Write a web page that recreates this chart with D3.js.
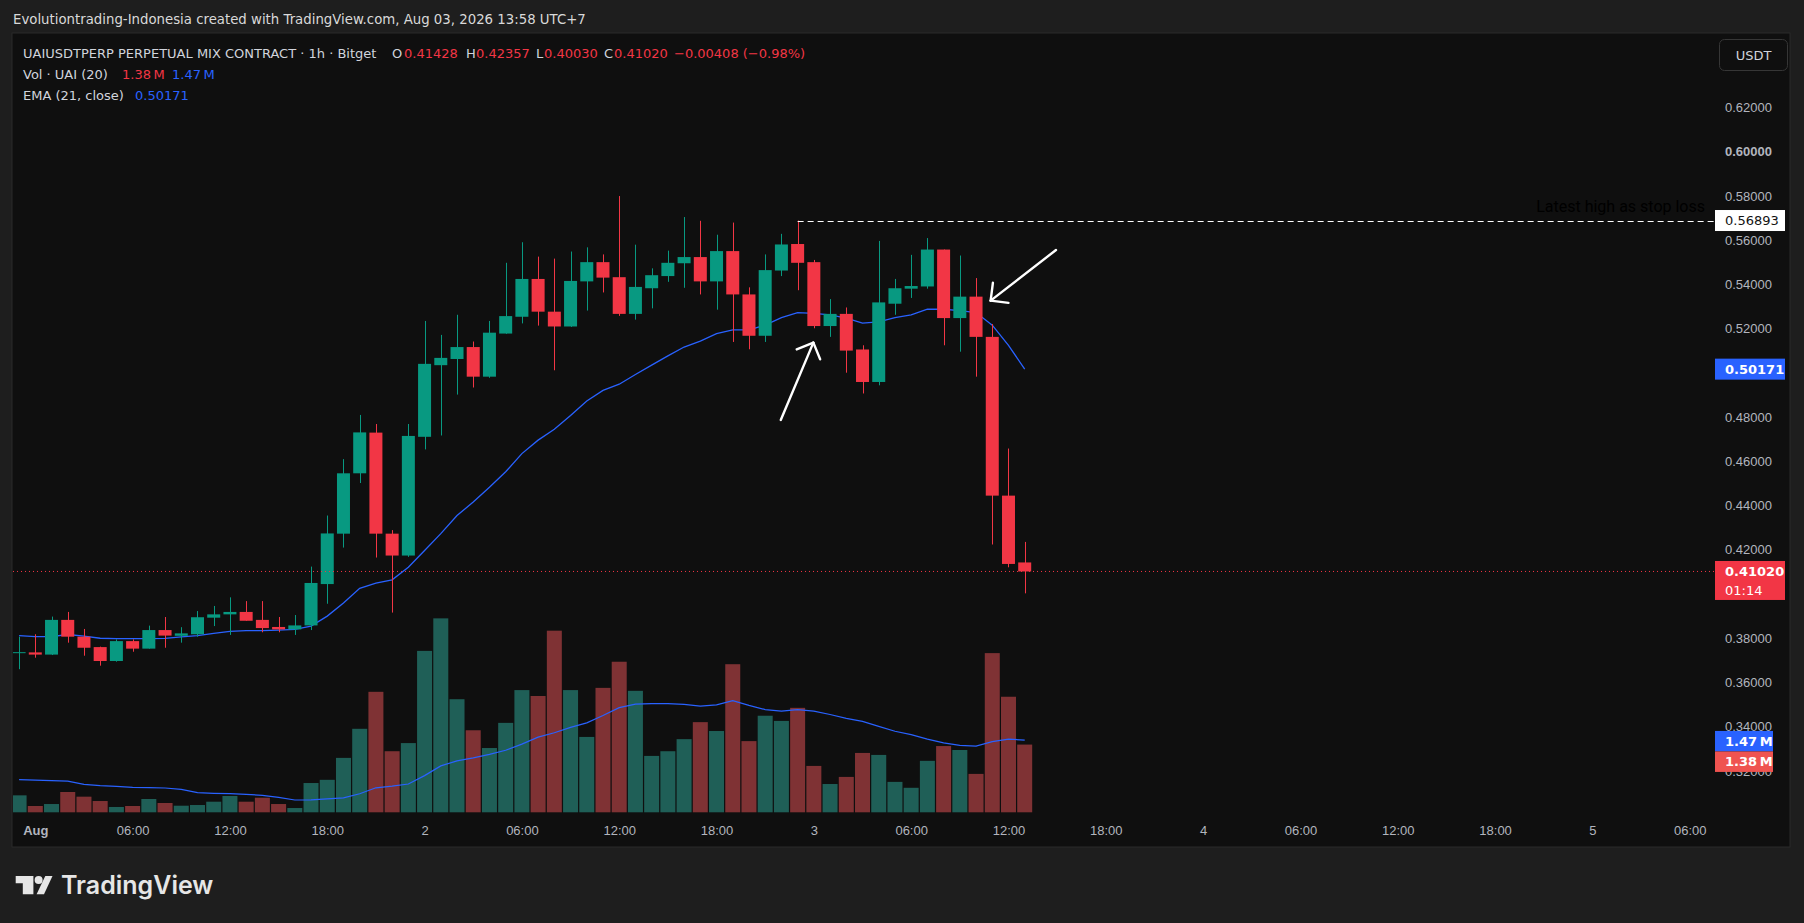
<!DOCTYPE html>
<html>
<head>
<meta charset="utf-8">
<script src="https://cdn.jsdelivr.net/npm/d3@7"></script>
<style>
  html, body { margin: 0; padding: 0; background: #1e1e1e; }
  svg { display: block; font-family: "DejaVu Sans", sans-serif; }
</style>
</head>
<body>
<svg id="chart" width="1804" height="923"></svg>
<script>
// candles are hourly, first one is Jul 31 23:00 (hour -1 from Aug 1 00:00)
const firstHour = -1;

const opens = [0.3734, 0.3736, 0.3726, 0.3883, 0.3807, 0.3760, 0.3697, 0.3787, 0.3753, 0.3837,
  0.3811, 0.3818, 0.3893, 0.3908, 0.3919, 0.3883, 0.3851, 0.3840, 0.3858, 0.4045,
  0.4273, 0.4546, 0.4730, 0.4273, 0.4174, 0.4711, 0.5035, 0.5063, 0.5117, 0.4983,
  0.5178, 0.5254, 0.5425, 0.5277, 0.5210, 0.5414, 0.5501, 0.5433, 0.5267, 0.5383,
  0.5438, 0.5496, 0.5524, 0.5414, 0.5551, 0.5355, 0.5168, 0.5463, 0.5583, 0.5501,
  0.5212, 0.5267, 0.5106, 0.4959, 0.5313, 0.5381, 0.5391, 0.5558, 0.5248, 0.5345,
  0.5163, 0.4445, 0.41428];
const highs = [0.3807, 0.3818, 0.3898, 0.3919, 0.3842, 0.3762, 0.3795, 0.3795, 0.3857, 0.3896,
  0.3850, 0.3923, 0.3946, 0.3985, 0.3968, 0.3968, 0.3896, 0.3905, 0.4124, 0.4355,
  0.4610, 0.4810, 0.4769, 0.4289, 0.4769, 0.5235, 0.5172, 0.5263, 0.5142, 0.5235,
  0.5498, 0.5591, 0.5526, 0.5517, 0.5549, 0.5568, 0.5536, 0.5800, 0.5580, 0.5473,
  0.5553, 0.5705, 0.5688, 0.5625, 0.5680, 0.5387, 0.5536, 0.5629, 0.56893, 0.5511,
  0.5334, 0.5296, 0.5125, 0.5597, 0.5425, 0.5534, 0.5610, 0.5558, 0.5531, 0.5429,
  0.5221, 0.4658, 0.42357];
const lows = [0.3660, 0.3712, 0.3724, 0.3780, 0.3721, 0.3676, 0.3694, 0.3739, 0.3753, 0.3757,
  0.3780, 0.3807, 0.3855, 0.3815, 0.3879, 0.3827, 0.3827, 0.3815, 0.3837, 0.3956,
  0.4210, 0.4502, 0.4165, 0.3916, 0.4168, 0.4654, 0.4717, 0.4902, 0.4934, 0.4978,
  0.5177, 0.5224, 0.5214, 0.5012, 0.5208, 0.5282, 0.5364, 0.5258, 0.5241, 0.5292,
  0.5412, 0.5385, 0.5355, 0.5286, 0.5140, 0.5107, 0.5140, 0.5438, 0.5374, 0.5202,
  0.5163, 0.5001, 0.4907, 0.4944, 0.5263, 0.5339, 0.5381, 0.5125, 0.5096, 0.4983,
  0.4224, 0.4121, 0.40030];
const closes = [0.3737, 0.3726, 0.3883, 0.3807, 0.3757, 0.3697, 0.3787, 0.3753, 0.3837, 0.3812,
  0.3822, 0.3895, 0.3908, 0.3919, 0.3879, 0.3846, 0.3840, 0.3858, 0.4050, 0.4274,
  0.4546, 0.4731, 0.4273, 0.4174, 0.4715, 0.5041, 0.5068, 0.5117, 0.4983, 0.5182,
  0.5257, 0.5425, 0.5277, 0.5210, 0.5416, 0.5501, 0.5431, 0.5267, 0.5389, 0.5442,
  0.5498, 0.5524, 0.5414, 0.5551, 0.5355, 0.5168, 0.5465, 0.5581, 0.5498, 0.5212,
  0.5267, 0.5101, 0.4959, 0.5319, 0.5383, 0.5393, 0.5558, 0.5248, 0.5345, 0.5163,
  0.4445, 0.4136, 0.41020];
// volume in millions
const volumes = [0.350, 0.134, 0.174, 0.418, 0.323, 0.235, 0.114, 0.134, 0.276, 0.195,
  0.140, 0.154, 0.221, 0.337, 0.221, 0.302, 0.174, 0.093, 0.600, 0.665,
  1.110, 1.700, 2.450, 1.245, 1.410, 3.280, 3.940, 2.300, 1.670, 1.310,
  1.820, 2.485, 2.365, 3.690, 2.485, 1.535, 2.530, 3.060, 2.470, 1.150,
  1.245, 1.490, 1.835, 1.655, 3.010, 1.450, 1.965, 1.860, 2.125, 0.947,
  0.580, 0.724, 1.210, 1.170, 0.623, 0.503, 1.050, 1.350, 1.270, 0.785,
  3.235, 2.350, 1.380];
const emaValues = [0.3812, 0.3807, 0.3807, 0.3817, 0.3810, 0.3800, 0.3798, 0.3798, 0.3798, 0.3799,
  0.3806, 0.3812, 0.3822, 0.3831, 0.3834, 0.3834, 0.3837, 0.3840, 0.3855, 0.3900,
  0.3959, 0.4026, 0.4049, 0.4064, 0.4121, 0.4197, 0.4273, 0.4355, 0.4416, 0.4483,
  0.4553, 0.4635, 0.4696, 0.4745, 0.4807, 0.4873, 0.4921, 0.4949, 0.4993, 0.5035,
  0.5077, 0.5117, 0.5144, 0.5178, 0.5195, 0.5195, 0.5216, 0.5250, 0.5273, 0.5269,
  0.5263, 0.5248, 0.5225, 0.5231, 0.5250, 0.5263, 0.5288, 0.5288, 0.5282, 0.5273,
  0.5216, 0.5125, 0.50171];
const volMaValues = [0.670, 0.660, 0.650, 0.640, 0.574, 0.546, 0.533, 0.513, 0.505, 0.499,
  0.472, 0.404, 0.391, 0.384, 0.371, 0.350, 0.310, 0.256, 0.260, 0.280,
  0.300, 0.383, 0.503, 0.537, 0.580, 0.750, 0.947, 1.050, 1.110, 1.180,
  1.264, 1.390, 1.530, 1.620, 1.730, 1.820, 1.970, 2.130, 2.200, 2.210,
  2.210, 2.195, 2.160, 2.185, 2.270, 2.175, 2.090, 2.060, 2.090, 2.060,
  1.990, 1.910, 1.850, 1.750, 1.650, 1.580, 1.490, 1.415, 1.365, 1.350,
  1.440, 1.490, 1.470];

// 0.40000 and 0.50000 sit under the last-price and EMA labels, so they are not shown
const priceTicks = [0.32, 0.34, 0.36, 0.38, 0.42, 0.44, 0.46, 0.48, 0.52, 0.54, 0.56, 0.58, 0.60, 0.62];
const timeTicks = [0, 6, 12, 18, 24, 30, 36, 42, 48, 54, 60, 66, 72, 78, 84, 90, 96, 102];
const timeLabels = ['Aug', '06:00', '12:00', '18:00', '2', '06:00', '12:00', '18:00', '3',
  '06:00', '12:00', '18:00', '4', '06:00', '12:00', '18:00', '5', '06:00'];

const stopLoss = 0.56893;
const stopFromHour = 47;
// hand drawn arrows, [hour, price] for tail and tip
const arrows = [
  { tail: [45.96, 0.4787], tip: [47.97, 0.5137] },
  { tail: [62.93, 0.5556], tip: [58.90, 0.5327] }
];

const colors = {
  up: '#089981',
  down: '#f23645',
  volUp: '#1f5f57',
  volDown: '#7f3234',
  blue: '#2962ff',
  text: '#d1d4dc',
  axis: '#b2b5be'
};

const svg = d3.select('#chart');
const W = 1804, H = 923;
const panel = { left: 12, top: 33, right: 1790, bottom: 847 };
const plotRight = 1702;
const volBase = 812.6;

const x = d3.scaleLinear().domain([0, 96]).range([35.3, 1592.4]);
const y = d3.scaleLinear().domain([0.32, 0.62]).range([770.9, 107.6]);
const yVol = d3.scaleLinear().domain([0, 4]).range([volBase, volBase - 4 * 49.3]);

const candles = opens.map((o, i) => ({
  h: firstHour + i, o: o, hi: highs[i], lo: lows[i], c: closes[i],
  v: volumes[i], ema: emaValues[i], vma: volMaValues[i]
}));

// background + panel
svg.append('rect').attr('width', W).attr('height', H).attr('fill', '#1e1e1e');
svg.append('text')
  .attr('x', 13).attr('y', 24)
  .attr('fill', '#d9d9d9').attr('font-size', 13.3)
  .text('Evolutiontrading-Indonesia created with TradingView.com, Aug 03, 2026 13:58 UTC+7');
svg.append('rect')
  .attr('x', panel.left).attr('y', panel.top)
  .attr('width', panel.right - panel.left).attr('height', panel.bottom - panel.top)
  .attr('fill', '#0f0f0f').attr('stroke', '#2a2a2a');

svg.append('clipPath').attr('id', 'plot-clip')
  .append('rect')
  .attr('x', panel.left + 1).attr('y', panel.top)
  .attr('width', plotRight - panel.left - 1).attr('height', volBase - panel.top);

const plot = svg.append('g').attr('clip-path', 'url(#plot-clip)');

// volume bars
plot.selectAll('.vol')
  .data(candles)
  .enter().append('rect')
  .attr('class', 'vol')
  .attr('x', d => x(d.h) - 7.5)
  .attr('width', 15)
  .attr('y', d => yVol(d.v))
  .attr('height', d => volBase - yVol(d.v))
  .attr('fill', d => d.c >= d.o ? colors.volUp : colors.volDown);

// volume MA
plot.append('path')
  .datum(candles)
  .attr('fill', 'none').attr('stroke', colors.blue).attr('stroke-width', 1.2)
  .attr('d', d3.line().x(d => x(d.h)).y(d => yVol(d.vma)));

// EMA 21
plot.append('path')
  .datum(candles)
  .attr('fill', 'none').attr('stroke', colors.blue).attr('stroke-width', 1.3)
  .attr('d', d3.line().x(d => x(d.h)).y(d => y(d.ema)));

// candles
const cg = plot.selectAll('.candle')
  .data(candles)
  .enter().append('g')
  .attr('class', 'candle');

cg.append('line')
  .attr('x1', d => Math.round(x(d.h)) + 0.5)
  .attr('x2', d => Math.round(x(d.h)) + 0.5)
  .attr('y1', d => y(d.hi))
  .attr('y2', d => y(d.lo))
  .attr('stroke', d => d.c >= d.o ? colors.up : colors.down)
  .attr('stroke-width', 1);

cg.append('rect')
  .attr('x', d => x(d.h) - 6.5)
  .attr('width', 13)
  .attr('y', d => y(Math.max(d.o, d.c)))
  .attr('height', d => Math.max(1, Math.abs(y(d.o) - y(d.c))))
  .attr('fill', d => d.c >= d.o ? colors.up : colors.down);

const last = candles[candles.length - 1];

// last price line (dotted)
svg.append('line')
  .attr('x1', panel.left + 1).attr('x2', 1715)
  .attr('y1', y(last.c)).attr('y2', y(last.c))
  .attr('stroke', colors.down).attr('stroke-width', 1)
  .attr('stroke-dasharray', '1 3');

// stop loss dashed line
svg.append('line')
  .attr('x1', x(stopFromHour)).attr('x2', 1715)
  .attr('y1', Math.round(y(stopLoss)) + 0.5).attr('y2', Math.round(y(stopLoss)) + 0.5)
  .attr('stroke', '#ffffff').attr('stroke-width', 1)
  .attr('stroke-dasharray', '6 4');

// arrows
arrows.forEach(a => {
  const tx = x(a.tip[0]), ty = y(a.tip[1]);
  const sx = x(a.tail[0]), sy = y(a.tail[1]);
  const ang = Math.atan2(sy - ty, sx - tx);
  const len = 18;
  const g = svg.append('g')
    .attr('stroke', '#ffffff').attr('stroke-width', 2.4)
    .attr('stroke-linecap', 'round').attr('fill', 'none');
  g.append('line').attr('x1', sx).attr('y1', sy).attr('x2', tx).attr('y2', ty);
  [Math.PI / 4, -Math.PI / 4].forEach(off => {
    g.append('line')
      .attr('x1', tx).attr('y1', ty)
      .attr('x2', tx + len * Math.cos(ang + off))
      .attr('y2', ty + len * Math.sin(ang + off));
  });
});

// legend
const legend = svg.append('g').attr('font-size', 13);
function legendPart(px, py, txt, color) {
  legend.append('text').attr('x', px).attr('y', py).attr('fill', color).text(txt);
}
const fmt5 = d3.format('.5f');
legendPart(23, 58, 'UAIUSDTPERP PERPETUAL MIX CONTRACT · 1h · Bitget', colors.text);
legendPart(392, 58, 'O', colors.text);
legendPart(404, 58, fmt5(last.o), colors.down);
legendPart(466, 58, 'H', colors.text);
legendPart(476, 58, fmt5(last.hi), colors.down);
legendPart(536, 58, 'L', colors.text);
legendPart(544, 58, fmt5(last.lo), colors.down);
legendPart(604, 58, 'C', colors.text);
legendPart(614, 58, fmt5(last.c), colors.down);
const chg = last.c - last.o;
legendPart(674, 58, d3.format('.5f')(chg).replace('-', '−') + ' (' +
  d3.format('.2f')(chg / last.o * 100).replace('-', '−') + '%)', colors.down);
legendPart(23, 79, 'Vol · UAI (20)', colors.text);
legendPart(122, 79, d3.format('.2f')(last.v) + '\u2009M', colors.down);
legendPart(172, 79, d3.format('.2f')(last.vma) + '\u2009M', colors.blue);
legendPart(23, 100, 'EMA (21, close)', colors.text);
legendPart(135, 100, fmt5(last.ema), colors.blue);

// price axis
const yAxis = svg.append('g')
  .attr('transform', 'translate(1725,0)')
  .call(d3.axisRight(y).tickValues(priceTicks).tickFormat(fmt5).tickSize(0).tickPadding(0));
yAxis.select('.domain').remove();
yAxis.selectAll('text')
  .attr('fill', colors.axis).attr('font-size', 13)
  .attr('font-weight', d => Math.abs(d - 0.6) < 1e-9 ? 'bold' : 'normal');

// time axis
const xAxis = svg.append('g')
  .attr('transform', 'translate(0,826)')
  .call(d3.axisBottom(x).tickValues(timeTicks).tickFormat((d, i) => timeLabels[i]).tickSize(0).tickPadding(0));
xAxis.select('.domain').remove();
xAxis.selectAll('text')
  .attr('fill', colors.axis).attr('font-size', 13)
  .attr('font-weight', (d, i) => timeLabels[i] === 'Aug' ? 'bold' : 'normal');

// price axis labels
function axisLabel(cy, h, bg, lines, fg, w) {
  const g = svg.append('g');
  g.append('rect').attr('x', 1715).attr('y', cy - 10.5)
    .attr('width', w || 70).attr('height', h).attr('fill', bg);
  lines.forEach((t, i) => {
    g.append('text').attr('x', 1725).attr('y', cy + 4.5 + i * 19)
      .attr('fill', fg).attr('font-size', 13).attr('font-weight', t.bold ? 'bold' : 'normal')
      .text(t.text);
  });
}
axisLabel(y(stopLoss), 21, '#ffffff', [{ text: fmt5(stopLoss) }], '#131313');
axisLabel(y(last.ema), 21, colors.blue, [{ text: fmt5(last.ema), bold: true }], '#ffffff');
axisLabel(y(last.c), 39, colors.down, [{ text: fmt5(last.c), bold: true }, { text: '01:14' }], '#ffffff');
const maCy = yVol(last.vma) + 1.3;
axisLabel(maCy, 20.5, colors.blue, [{ text: d3.format('.2f')(last.vma) + '\u2009M', bold: true }], '#ffffff', 58);
axisLabel(maCy + 20.5, 20.5, '#ef5350', [{ text: d3.format('.2f')(last.v) + '\u2009M', bold: true }], '#ffffff', 58);

// note text near the stop loss line
svg.append('text')
  .attr('x', 1705).attr('y', 212)
  .attr('text-anchor', 'end')
  .attr('font-family', 'Roboto, sans-serif')
  .attr('font-size', 16)
  .attr('fill', '#000000')
  .text('Latest high as stop loss');

// currency button
svg.append('rect')
  .attr('x', 1719.5).attr('y', 39.5).attr('width', 68).attr('height', 31).attr('rx', 5)
  .attr('fill', '#0f0f0f').attr('stroke', '#363636');
svg.append('text')
  .attr('x', 1753.5).attr('y', 60).attr('text-anchor', 'middle')
  .attr('fill', colors.text).attr('font-size', 13)
  .text('USDT');

// TradingView logo
const logo = svg.append('g').attr('fill', '#e6e6e6');
logo.append('path').attr('d', 'M15.7,876 H33.4 V894.3 H22.8 V883.2 H15.7 Z');
logo.append('circle').attr('cx', 38.6).attr('cy', 880).attr('r', 4);
logo.append('path').attr('d', 'M45.3,876 H52.5 L44,894.3 H36.6 Z');
logo.append('text')
  .attr('x', 61).attr('y', 894.3)
  .attr('font-family', 'Inter, Roboto, sans-serif')
  .attr('font-weight', 600).attr('font-size', 25)
  .text('TradingView');
</script>
</body>
</html>
